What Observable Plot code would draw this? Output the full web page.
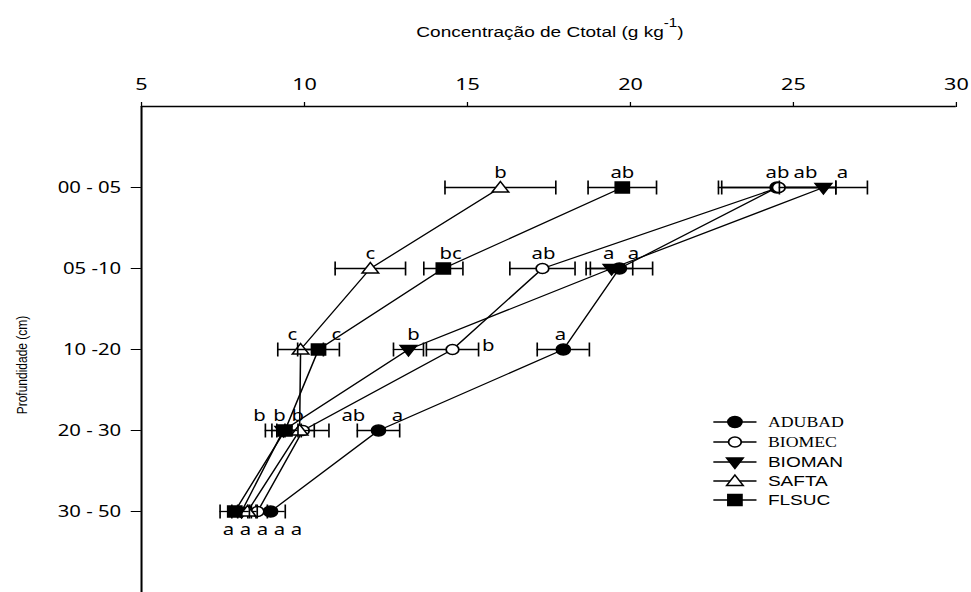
<!DOCTYPE html>
<html><head><meta charset="utf-8">
<script src="https://cdn.jsdelivr.net/npm/d3@7"></script>
<script src="https://cdn.jsdelivr.net/npm/@observablehq/plot@0.6"></script>
<style>body{margin:0;background:#fff}#chart{width:971px;height:592px;overflow:hidden}</style>
</head><body><div id="chart"></div>
<script>
// ---- data ----
const depthLabels = ["00 - 05", "05 -10", "10 -20", "20 - 30", "30 - 50"];
const xTicks = [5, 10, 15, 20, 25, 30];
const seriesNames = ["ADUBAD", "BIOMEC", "BIOMAN", "SAFTA", "FLSUC"];
const adubad = [24.50, 19.66, 17.94, 12.27, 8.96];
const adubadErr = [1.80, 1.02, 0.80, 0.65, 0.45];
const biomec = [24.55, 17.30, 14.54, 9.95, 8.56];
const biomecErr = [1.75, 1.00, 0.80, 0.80, 0.30];
const bioman = [25.92, 19.42, 13.19, 9.35, 8.07];
const biomanErr = [1.35, 0.65, 0.46, 0.55, 0.30];
const safta = [16.01, 12.02, 9.88, 9.85, 8.25];
const saftaErr = [1.70, 1.08, 0.70, 0.45, 0.30];
const flsuc = [19.75, 14.26, 10.43, 9.40, 7.86];
const flsucErr = [1.05, 0.60, 0.64, 0.40, 0.45];
// letters of significance: text, x position (g/kg), depth row, placement
const labelText = ["b","ab","ab","ab","a", "c","bc","ab","a","a", "c","c","b","b","a", "b","b","b","ab","a", "a","a","a","a","a"];
const labelX = [16.01,19.75,24.51,25.37,26.50, 12.02,14.48,17.33,19.33,20.09, 9.63,10.98,13.34,15.64,17.85, 8.62,9.23,9.79,11.50,12.85, 7.67,8.19,8.71,9.23,9.75];
const labelDepth = [1,1,1,1,1, 2,2,2,2,2, 3,3,3,3,3, 4,4,4,4,4, 5,5,5,5,5];
const labelPlace = ["above","above","above","above","above", "above","above","above","above","above", "above","above","above","right","above", "above","above","above","above","above", "below","below","below","below","below"];

// ---- geometry (internal units; svg is stretched horizontally to 971px) ----
const W = 765, H = 592;

const values = [adubad, biomec, bioman, safta, flsuc];
const errs = [adubadErr, biomecErr, biomanErr, saftaErr, flsucErr];

const sym = {
  circle: r => ({draw(c){ c.moveTo(r, 0); c.arc(0, 0, r, 0, 2 * Math.PI); c.closePath(); }}),
  square: h => ({draw(c){ c.rect(-h, -h, 2 * h, 2 * h); }}),
  triUp: (w, t, b) => ({draw(c){ c.moveTo(0, -t); c.lineTo(w, b); c.lineTo(-w, b); c.closePath(); }}),
  triDown: (w, t, b) => ({draw(c){ c.moveTo(-w, -t); c.lineTo(w, -t); c.lineTo(0, b); c.closePath(); }}),
  vbar: h => ({draw(c){ c.moveTo(0, -h); c.lineTo(0, h); }})
};
const styles = [
  {symbol: sym.circle(5.5), fill: "black"},
  {symbol: sym.circle(5), fill: "white"},
  {symbol: sym.triDown(6.5, 4, 6.5), fill: "black"},
  {symbol: sym.triUp(6.5, 6, 4.5), fill: "white"},
  {symbol: sym.square(5.5), fill: "black"}
];
const legendFonts = ["Liberation Serif, Times New Roman, serif", "Liberation Serif, Times New Roman, serif",
  "Liberation Sans, Arial, sans-serif", "Liberation Sans, Arial, sans-serif", "Liberation Sans, Arial, sans-serif"];
const legendSizes = [14, 14, 15, 15, 15];

const marks = [
  Plot.ruleY([0], {x1: 5, x2: 30, stroke: "black", strokeWidth: 1.4}),
  Plot.ruleX([5], {y1: 0, y2: 6, stroke: "black", strokeWidth: 1.6}),
  Plot.axisX({anchor: "top", ticks: xTicks, tickSize: 5, tickPadding: 12, fontSize: 17, label: null, stroke: "black"}),
  Plot.axisY({anchor: "left", ticks: [1, 2, 3, 4, 5], tickFormat: i => depthLabels[i - 1], tickSize: 8, tickPadding: 8, fontSize: 16, label: null})
];
const capSym = sym.vbar(7);
seriesNames.forEach((name, k) => {
  const rows = values[k].map((v, i) => ({depth: i + 1, v, e: errs[k][i]}));
  const caps = rows.flatMap(d => [{depth: d.depth, x: d.v - d.e}, {depth: d.depth, x: d.v + d.e}]);
  marks.push(
    Plot.line(rows, {x: "v", y: "depth", stroke: "black", strokeWidth: 1.2}),
    Plot.ruleY(rows, {x1: d => d.v - d.e, x2: d => d.v + d.e, y: "depth", stroke: "black", strokeWidth: 1.3}),
    Plot.dot(caps, {x: "x", y: "depth", symbol: capSym, r: 7, fill: "none", stroke: "black", strokeWidth: 1.3}),
    Plot.dot(rows, {x: "v", y: "depth", symbol: styles[k].symbol, r: 5, fill: styles[k].fill, stroke: "black", strokeWidth: 1.4})
  );
});
const labels = labelText.map((t, i) => ({t, x: labelX[i], depth: labelDepth[i], place: labelPlace[i]}));
const dyFor = {above: -10, right: 1, below: 23};
for (const place of ["above", "right", "below"]) {
  marks.push(Plot.text(labels.filter(d => d.place === place), {
    x: "x", y: "depth", text: "t", lineAnchor: "bottom", dy: dyFor[place],
    fontSize: 16, fill: "black"
  }));
}

const svg = Plot.plot({
  width: W, height: H,
  marginTop: 106, marginBottom: 0, marginLeft: 111, marginRight: 12,
  x: {domain: [5, 30]},
  y: {domain: [0, 6], reverse: true},
  style: {fontFamily: "Liberation Sans, Arial, sans-serif", fontSize: "16px", color: "black", background: "white"},
  marks
});

// titles and legend
const g = d3.select(svg);
const title = g.append("text").attr("x", 328).attr("y", 37).attr("text-anchor", "start")
  .attr("font-family", "Liberation Sans, Arial, sans-serif").attr("font-size", 15).attr("fill", "black");
title.append("tspan").text("Concentração de Ctotal (g kg");
title.append("tspan").attr("dy", -10).attr("font-size", 12).text("-1");
title.append("tspan").attr("dy", 10).text(")");

g.append("text").attr("transform", "translate(21,365) rotate(-90)")
  .attr("text-anchor", "middle").attr("font-family", "Liberation Sans, Arial, sans-serif")
  .attr("font-size", 12).attr("fill", "black").text("Profundidade (cm)");

const legendY = [422, 442, 462, 481, 500];
const lg = g.append("g").attr("text-anchor", "start");
seriesNames.forEach((name, k) => {
  const y = legendY[k];
  lg.append("line").attr("x1", 562).attr("x2", 596).attr("y1", y).attr("y2", y)
    .attr("stroke", "black").attr("stroke-width", 1.3);
  lg.append("path").attr("transform", `translate(579,${y})`)
    .attr("d", d3.symbol().type(styles[k].symbol)())
    .attr("fill", styles[k].fill).attr("stroke", "black").attr("stroke-width", 1.4);
  lg.append("text").attr("x", 605).attr("y", y).attr("dy", "0.36em").attr("text-anchor", "start")
    .attr("font-family", legendFonts[k]).attr("font-size", legendSizes[k]).attr("fill", "black").text(name);
});

svg.setAttribute("width", 971);
svg.setAttribute("height", 592);
svg.setAttribute("viewBox", `0 0 ${W} ${H}`);
svg.setAttribute("preserveAspectRatio", "none");
svg.style.cssText = "display:block;width:971px;height:592px;max-width:none;background:white;";
document.getElementById("chart").appendChild(svg);
</script>
</body></html>
